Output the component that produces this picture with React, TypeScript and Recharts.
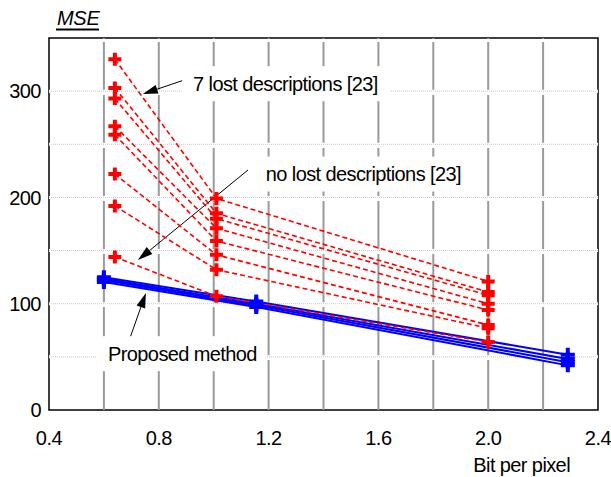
import React from 'react';
import { LineChart, Line, XAxis, YAxis, ReferenceLine, ReferenceArea, ReferenceDot } from 'recharts';

const xTicks = [0.4, 0.8, 1.2, 1.6, 2.0, 2.4];
const yTicks = [0, 100, 200, 300];
const gridX = [0.6, 0.8, 1.0, 1.2, 1.4, 1.6, 1.8, 2.0, 2.2];
const gridY = [50, 100, 150, 200, 250, 300];

const redX = [0.64, 1.01, 2.0];
const red7 = [330, 199, 121];
const red6 = [303, 185, 111];
const red5 = [293, 180, 108];
const red4 = [267, 171, 100];
const red3 = [259, 159, 94];
const red2 = [222, 146, 80];
const red1 = [192, 132, 77];
const red0 = [144, 107, 64];
const redSeries = [red7, red6, red5, red4, red3, red2, red1, red0];

const blueX = [0.6, 1.155, 2.29];
const blueA = [125, 102, 52];
const blueB = [123.5, 100, 48];
const blueC = [122, 98.5, 45];
const blueD = [120.5, 97, 42];
const blueSeries = [blueA, blueB, blueC, blueD];

const notes = [
  { text: '7 lost descriptions [23]', x: 0.925, y: 307, w: 208 },
  { text: 'no lost descriptions [23]', x: 1.19, y: 222, w: 226 },
  { text: 'Proposed method', x: 0.615, y: 53, w: 170 },
];
const arrows = [
  { from: { x: 0.903, y: 311.4 }, to: { x: 0.742, y: 297.3 } },
  { from: { x: 1.125, y: 225.8 }, to: { x: 0.724, y: 141.1 } },
  { from: { x: 0.695, y: 67.7 }, to: { x: 0.753, y: 110.1 } },
];

const FONT = 'Liberation Sans, Arial, Helvetica, sans-serif';

const toData = (xs: number[], ys: number[]) => xs.map((x, i) => ({ x, y: ys[i] }));

const Plus = (color: string, size: number, sw: number) => (p: any) => {
  const { cx, cy, index } = p;
  if (cx == null || cy == null) return <g key={index} />;
  return (
    <path
      key={index}
      d={`M${cx - size},${cy}H${cx + size}M${cx},${cy - size}V${cy + size}`}
      stroke={color}
      strokeWidth={sw}
      fill="none"
    />
  );
};

const Arrow = (p: any) => {
  const { x1, y1, x2, y2 } = p;
  const ang = Math.atan2(y2 - y1, x2 - x1);
  const L = 15;
  const W = 4.5;
  const bx = x2 - L * Math.cos(ang);
  const by = y2 - L * Math.sin(ang);
  const px = -Math.sin(ang) * W;
  const py = Math.cos(ang) * W;
  return (
    <g>
      <line x1={x1} y1={y1} x2={bx} y2={by} stroke="#000" strokeWidth={1} />
      <polygon points={`${x2},${y2} ${bx + px},${by + py} ${bx - px},${by - py}`} fill="#000" />
    </g>
  );
};

const VGrid = (p: any) => (
  <line x1={p.x1} y1={p.y1} x2={p.x2} y2={p.y2} stroke="#9a9a9a" strokeWidth={2} strokeDasharray="50 3" />
);

const HGrid = (p: any) => (
  <g>
    <line x1={p.x1} y1={p.y1} x2={p.x2} y2={p.y2} stroke="#fff" strokeWidth={3} />
    <line x1={p.x1} y1={p.y1} x2={p.x2} y2={p.y2} stroke="#c8c8c8" strokeWidth={1} strokeDasharray="1 1" />
  </g>
);

const Note = (text: string, w: number) => (p: any) => (
  <g>
    <rect x={p.cx - 11} y={p.cy - 17.5} width={w} height={35} fill="#fff" />
    <text x={p.cx} y={p.cy} dy="0.35em" fontSize={20} fontFamily={FONT} letterSpacing={-0.6} fill="#000">
      {text}
    </text>
  </g>
);

const TitleLabel = (p: any) => {
  const vb = p.viewBox || {};
  const x = (vb.x ?? 0) + (vb.width ?? 49) + 8;
  const y = (vb.y ?? 38) - 13.5;
  return (
    <g>
      <text x={x} y={y} fontSize={20} fontStyle="italic" fontFamily={FONT} letterSpacing={-0.3} fill="#000">
        MSE
      </text>
      <line x1={x - 1} y1={y + 5} x2={x + 42} y2={y + 5} stroke="#000" strokeWidth={2} />
    </g>
  );
};

const XTitle = (p: any) => {
  const vb = p.viewBox || {};
  const x = (vb.x ?? 49) + (vb.width ?? 549) - 28;
  const y = (vb.y ?? 410) + 62;
  return (
    <text x={x} y={y} textAnchor="end" fontSize={20} fontFamily={FONT} letterSpacing={-0.6} fill="#000">
      Bit per pixel
    </text>
  );
};

export default function App() {
  return (
    <div style={{ position: 'absolute', left: 0, top: 0, background: '#fff' }}>
      <LineChart width={611} height={477} margin={{ top: 38, right: 13, left: 0, bottom: 0 }}>
        <XAxis
          type="number"
          dataKey="x"
          domain={[0.4, 2.4]}
          ticks={xTicks}
          tickFormatter={(v: number) => v.toFixed(1)}
          axisLine={false}
          tickLine={false}
          tickMargin={15}
          height={67}
          allowDataOverflow
          tick={{ fontSize: 20, fill: '#000', fontFamily: FONT, letterSpacing: -0.5 }}
          label={{ content: XTitle }}
        />
        <YAxis
          type="number"
          dataKey="y"
          domain={[0, 350]}
          ticks={yTicks}
          axisLine={false}
          tickLine={false}
          width={49}
          allowDataOverflow
          tick={{ fontSize: 20, fill: '#000', fontFamily: FONT, letterSpacing: -0.5 }}
          label={{ content: TitleLabel }}
        />
        {gridX.map((g) => (
          <ReferenceLine key={'vx' + g} x={g} shape={VGrid} />
        ))}
        {gridY.map((g) => (
          <ReferenceLine key={'hy' + g} y={g} shape={HGrid} />
        ))}
        {notes.map((n) => (
          <ReferenceDot key={n.text} x={n.x} y={n.y} r={0} shape={Note(n.text, n.w)} />
        ))}
        {arrows.map((a, i) => (
          <ReferenceLine key={'ar' + i} segment={[a.from, a.to]} shape={Arrow} />
        ))}
        {blueSeries.map((s, i) => (
          <Line
            key={'b' + i}
            data={toData(blueX, s)}
            dataKey="y"
            stroke="#0000ff"
            strokeWidth={2}
            dot={Plus('#0000ff', 7, 4)}
            isAnimationActive={false}
          />
        ))}
        {redSeries.map((s, i) => (
          <Line
            key={'r' + i}
            data={toData(redX, s)}
            dataKey="y"
            stroke="#ff0000"
            strokeWidth={1.6}
            strokeDasharray="5 3"
            dot={Plus('#ff0000', 6.5, 4)}
            isAnimationActive={false}
          />
        ))}
        <ReferenceArea x1={0.4} x2={2.4} y1={0} y2={350} fill="none" fillOpacity={0} stroke="#000" strokeWidth={1.5} />
      </LineChart>
    </div>
  );
}
